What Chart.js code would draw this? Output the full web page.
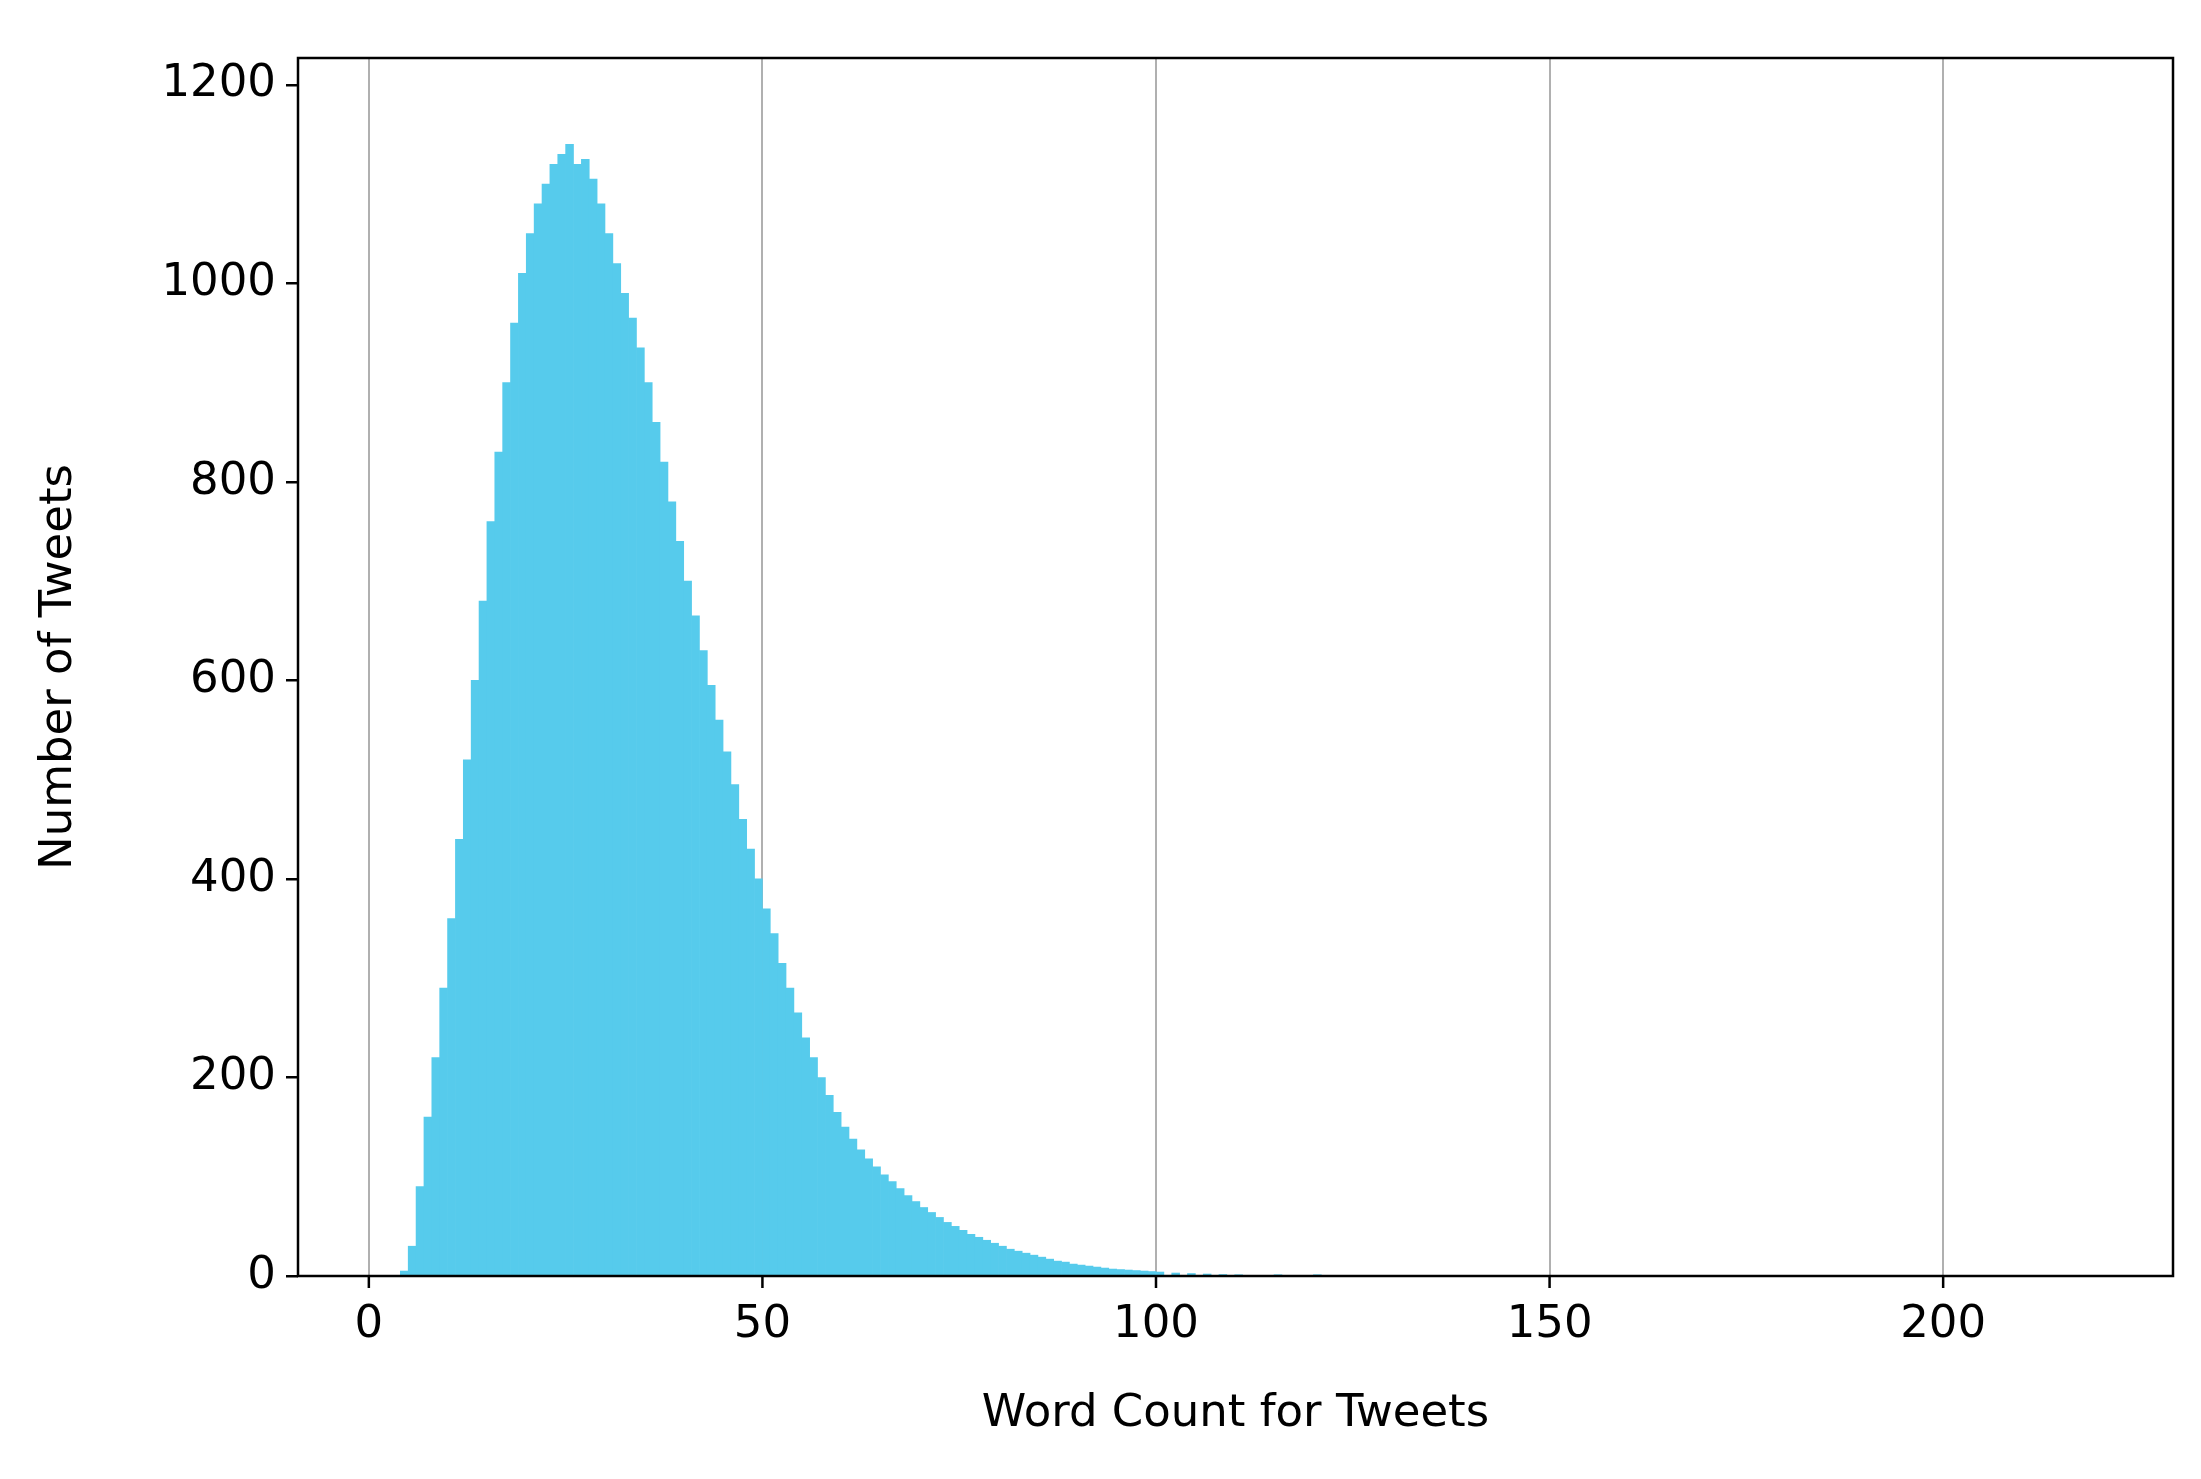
<!DOCTYPE html>
<html>
<head>
<meta charset="utf-8">
<script src="https://cdn.jsdelivr.net/npm/chart.js@4/dist/chart.umd.min.js"></script>
<style>
  html, body { margin: 0; padding: 0; background: #fff; }
  #wrap { width: 2201px; height: 1479px; }
</style>
</head>
<body>
<div id="wrap"><canvas id="c" width="2201" height="1479"></canvas></div>
<script>
// word count bins (bin start) and number of tweets per bin
const wordCounts = [0,1,2,3,4,5,6,7,8,9,10,11,12,13,14,15,16,17,18,19,20,21,22,23,24,25,26,27,28,29,30,31,32,33,34,35,36,37,38,39,40,41,42,43,44,45,46,47,48,49,50,51,52,53,54,55,56,57,58,59,60,61,62,63,64,65,66,67,68,69,70,71,72,73,74,75,76,77,78,79,80,81,82,83,84,85,86,87,88,89,90,91,92,93,94,95,96,97,98,99,100,102,104,106,108,110,115,120];
const tweetCounts = [0,0,0,0,5,30,90,160,220,290,360,440,520,600,680,760,830,900,960,1010,1050,1080,1100,1120,1130,1140,1120,1125,1105,1080,1050,1020,990,965,935,900,860,820,780,740,700,665,630,595,560,528,495,460,430,400,370,345,315,290,265,240,220,200,182,165,150,138,127,118,110,102,95,88,81,75,69,64,59,54,50,46,42,39,36,33,30,27,25,23,21,19,17,15,14,12,11,10,9,8,7,6.5,6,5.5,5,4.5,4,3,2.5,2,1.5,1,0.6,0.3];
const xTicks = [0, 50, 100, 150, 200];
const yTicks = [0, 200, 400, 600, 800, 1000, 1200];

const font = { family: 'DejaVu Sans', size: 45 };

const frame = {
  id: 'frame',
  afterDraw(chart) {
    const { ctx, chartArea: a } = chart;
    ctx.save();
    ctx.strokeStyle = '#000';
    ctx.lineWidth = 2.5;
    ctx.strokeRect(a.left, a.top, a.right - a.left, a.bottom - a.top);
    // tick marks under the x axis
    const xs = chart.scales.x;
    xTicks.forEach(v => {
      const px = xs.getPixelForValue(v);
      ctx.beginPath();
      ctx.moveTo(px, a.bottom);
      ctx.lineTo(px, a.bottom + 12);
      ctx.stroke();
    });
    ctx.restore();
  }
};

new Chart(document.getElementById('c'), {
  type: 'bar',
  data: {
    datasets: [{
      data: wordCounts.map((w, i) => ({ x: w + 0.5, y: tweetCounts[i] })),
      backgroundColor: '#56CBEC',
      borderWidth: 0,
      barPercentage: 1,
      categoryPercentage: 1
    }]
  },
  options: {
    responsive: false,
    animation: false,
    layout: { padding: { top: 58, right: 28, left: 28, bottom: 0 } },
    plugins: { legend: { display: false }, tooltip: { enabled: false } },
    scales: {
      x: {
        type: 'linear',
        offset: false,
        min: -9, max: 229.2,
        afterBuildTicks: s => { s.ticks = xTicks.map(v => ({ value: v })); },
        afterFit: s => { s.height = 203; },
        grid: { color: '#b0b0b0', lineWidth: 2, drawTicks: false, offset: false },
        border: { display: false },
        ticks: { font, color: '#000', padding: 22, maxRotation: 0 },
        title: { display: true, text: 'Word Count for Tweets', font, color: '#000', padding: { top: 0, bottom: 38 } }
      },
      y: {
        min: 0, max: 1227,
        afterBuildTicks: s => { s.ticks = yTicks.map(v => ({ value: v })); },
        afterFit: s => { s.width = 270; },
        grid: { display: true, drawOnChartArea: false, drawTicks: true, tickLength: 12, color: '#000', lineWidth: 2.5 },
        border: { display: false },
        ticks: { font, color: '#000', padding: 10, callback: v => String(v) },
        title: { display: true, text: 'Number of Tweets', font, color: '#000', padding: { bottom: 10 } }
      }
    }
  },
  plugins: [frame]
});
</script>
</body>
</html>
